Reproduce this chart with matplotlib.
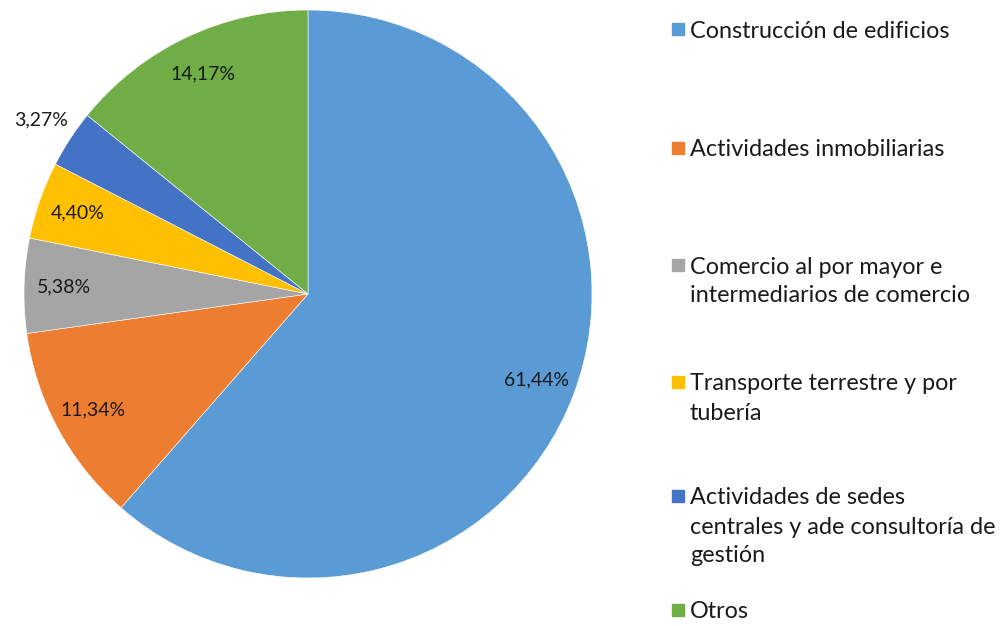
import numpy as np
import matplotlib
matplotlib.use("Agg")
import matplotlib.pyplot as plt
from matplotlib.patches import Rectangle

plt.rcParams['font.family'] = ['Lato', 'DejaVu Sans']

# datos del grafico
categorias = [
    "Construcción de edificios",
    "Actividades inmobiliarias",
    "Comercio al por mayor e\nintermediarios de comercio",
    "Transporte terrestre y por\ntubería",
    "Actividades de sedes\ncentrales y ade consultoría de\ngestión",
    "Otros",
]
porcentajes = [61.44, 11.34, 5.38, 4.40, 3.27, 14.17]
colores = ["#5B9BD5", "#ED7D31", "#A5A5A5", "#FFC000", "#4472C4", "#70AD47"]

W, H = 1000, 626
fig = plt.figure(figsize=(W / 100, H / 100), dpi=100)
fig.patch.set_facecolor("white")

# pie axes: center (308, 294) px, radius 284 px
cx, cy, R = 308, 294, 284
ax = fig.add_axes([(cx - R) / W, (H - cy - R) / H, 2 * R / W, 2 * R / H])

wedges, textos, autotextos = ax.pie(
    porcentajes,
    colors=colores,
    startangle=90,
    counterclock=False,
    autopct=lambda p: ("%.2f%%" % p).replace(".", ","),
    pctdistance=0.86,
    wedgeprops=dict(edgecolor="white", linewidth=0.4),
    textprops=dict(fontsize=14, color="#1a1a1a"),
)
ax.set_xlim(-1, 1)
ax.set_ylim(-1, 1)

# the small slice has its label outside the pie
w = wedges[4]
ang = np.deg2rad((w.theta1 + w.theta2) / 2)
autotextos[4].set_position((1.12 * np.cos(ang), 1.12 * np.sin(ang)))

# legend drawn by hand, entries spread down the right side
y_entradas = [31, 150, 267, 384, 498, 612]
interlineado = 29
for cat, col, yc in zip(categorias, colores, y_entradas):
    fig.patches.append(Rectangle((672 / W, 1 - (yc + 4) / H), 12 / W, 12 / H,
                                 transform=fig.transFigure, color=col))
    for k, linea in enumerate(cat.split("\n")):
        fig.text(690 / W, 1 - (yc + k * interlineado) / H, linea,
                 fontsize=16.8, color="#1a1a1a", va="center", ha="left")

plt.savefig("out.png", dpi=100)
